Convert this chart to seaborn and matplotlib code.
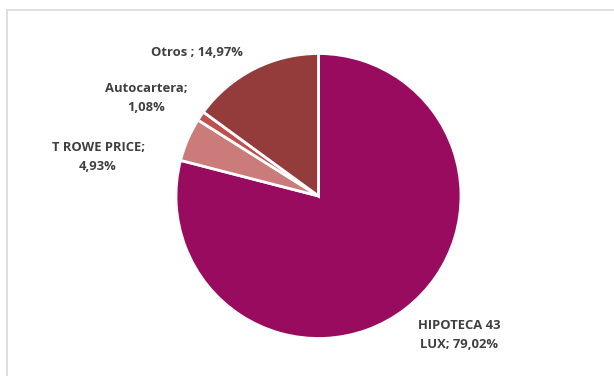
import matplotlib
matplotlib.use("Agg")
import matplotlib.pyplot as plt
import seaborn as sns
from matplotlib.patches import Rectangle

sns.set_theme(style="white")
plt.rcParams['font.family'] = ['Open Sans', 'DejaVu Sans']

labels = ["HIPOTECA 43\nLUX; 79,02%", "T ROWE PRICE;\n4,93%", "Autocartera;\n1,08%", "Otros ; 14,97%"]
values = [79.02, 4.93, 1.08, 14.97]
colors = ["#990B5F", "#CC7B7B", "#C0504D", "#943C3C"]

W, H = 614, 376
fig = plt.figure(figsize=(W / 100, H / 100), dpi=100)
ax = fig.add_axes([0, 0, 1, 1])

# chart frame
fig.patches.append(Rectangle((7 / W, -0.1), 1.2, (H - 10) / H + 0.1, transform=fig.transFigure,
                             fill=False, edgecolor="#D9D9D9", linewidth=1.2))

cx, cy, r = 318.5, H - 196, 142.5
ax.pie(values, colors=colors, startangle=90, counterclock=False, center=(cx, cy), radius=r,
       wedgeprops=dict(edgecolor="white", linewidth=2), frame=True)
ax.set_xlim(0, W)
ax.set_ylim(0, H)
ax.set_aspect("equal")
ax.axis("off")

pos = [(459, 335), (98, 157), (146.5, 98), (196.5, 52)]
for lab, (x, y) in zip(labels, pos):
    ax.text(x, H - y, lab, ha="center", va="center", fontsize=9.4, fontweight="bold",
            color="#404040", linespacing=1.55)

fig.savefig("out.png", dpi=100)
